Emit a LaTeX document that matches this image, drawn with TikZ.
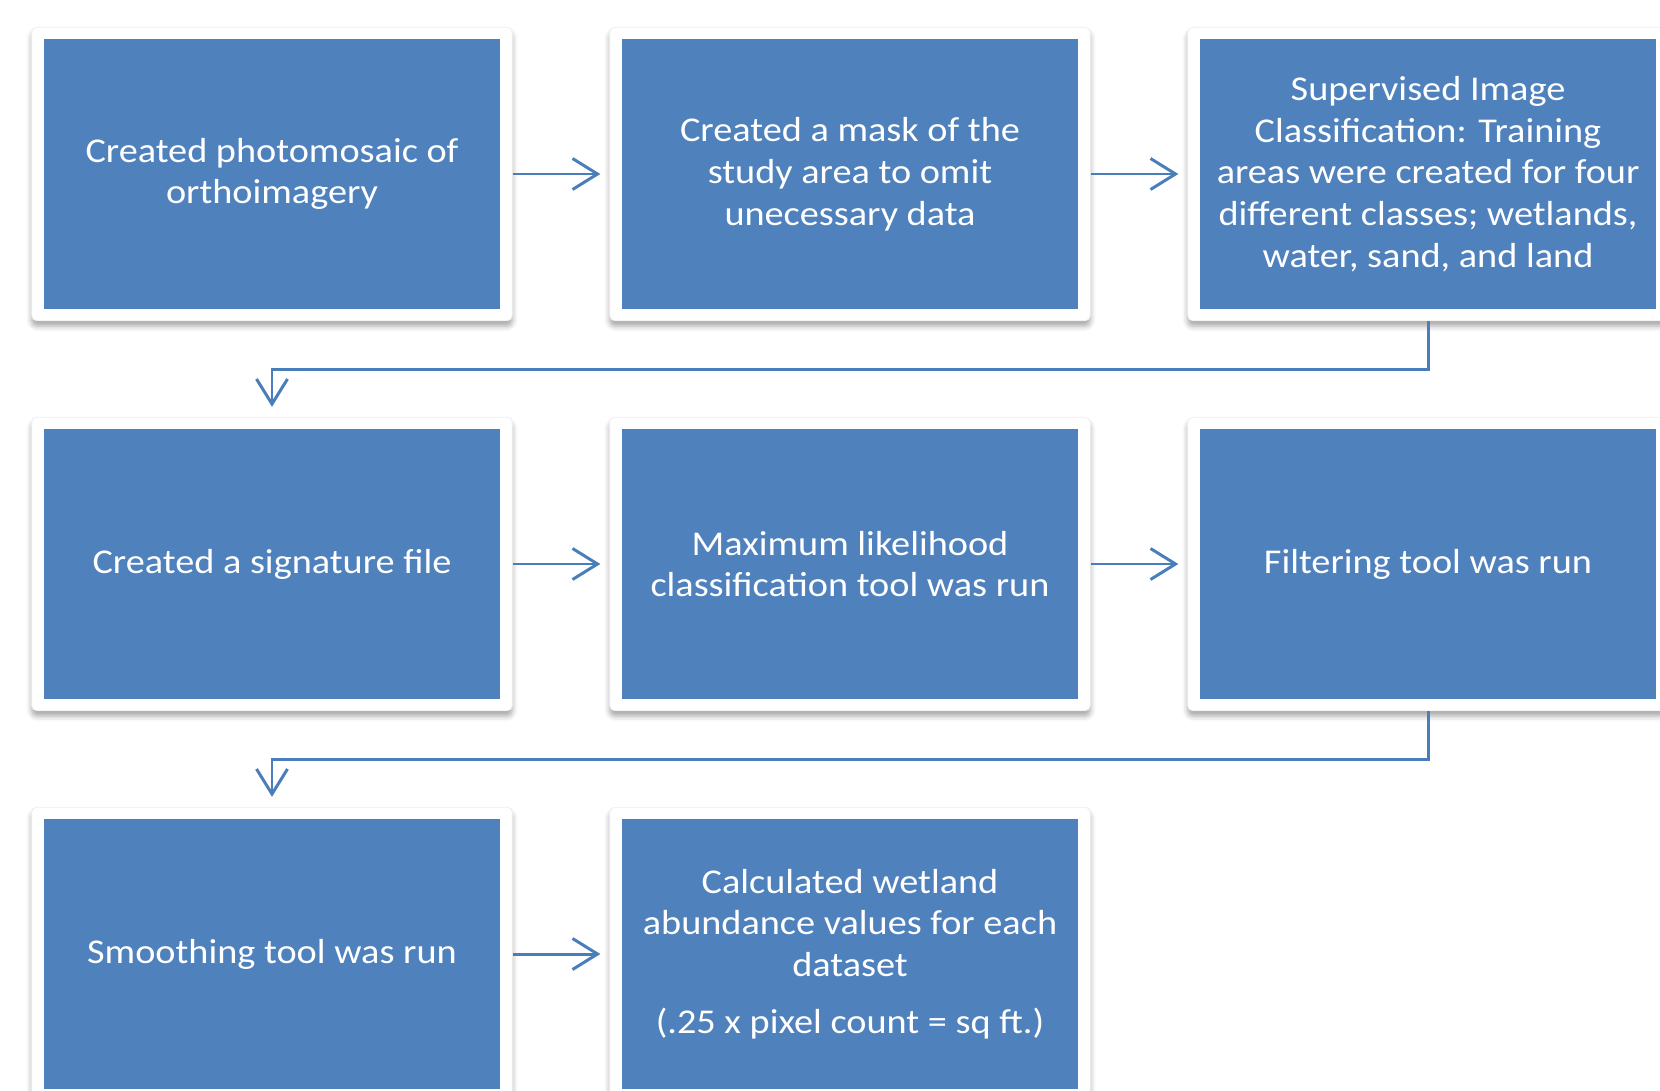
\documentclass[tikz,border=0pt]{standalone}
\usepackage{fontspec}
\setmainfont{Carlito}[FakeStretch=1.1]
\usetikzlibrary{arrows.meta,
                fit,
                backgrounds,
                shadows.blur,
                positioning}
\definecolor{boxblue}{HTML}{4F81BD}
\definecolor{linkblue}{HTML}{4A7EBB}
\tikzset{
  stepbox/.style={fill=boxblue, text=white, align=center, inner sep=0pt,
    minimum width=9.14cm, minimum height=5.4cm,
    font=\fontsize{19.8}{23.8}\selectfont},
  framebox/.style={fill=white, draw=black!7, rounded corners=3pt, inner sep=0.23cm,
    blur shadow={shadow xshift=0pt, shadow yshift=-3pt, shadow blur radius=3pt,
      shadow opacity=35}},
  link/.style={draw=linkblue, line width=1.7pt,
    -{Straight Barb[length=0.5cm, width=0.62cm, line width=1.7pt]}}
}

\begin{document}
\begin{tikzpicture}[x=0.02cm, y=-0.02cm]
\useasboundingbox (0,0) rectangle (1660,1091);

% steps, row by row
\node[stepbox] (mosaic) at (272,174) {Created photomosaic of\\orthoimagery};
\node[stepbox] (mask)   at (850,174) {Created a mask of the\\study area to omit\\unecessary data};
\node[stepbox] (train)  at (1428,174) {Supervised Image\\Classification: Training\\areas were created for four\\different classes; wetlands,\\water, sand, and land};

\node[stepbox] (sig)    at (272,564) {Created a signature file};
\node[stepbox] (maxlik) at (850,564) {Maximum likelihood\\classification tool was run};
\node[stepbox] (filt)   at (1428,564) {Filtering tool was run};

\node[stepbox] (smooth) at (272,954) {Smoothing tool was run};
\node[stepbox] (area)   at (850,954) {Calculated wetland\\abundance values for each\\dataset\\[0.3cm](.25 x pixel count = sq ft.)};

% white frames behind the steps
\begin{scope}[on background layer]
\foreach \n in {mosaic,mask,train,sig,maxlik,filt,smooth,area}
  \node[framebox, fit=(\n)] (f\n) {};
\end{scope}

% connectors
\draw[link, shorten >=0.18cm] (fmosaic) -- (fmask);
\draw[link, shorten >=0.18cm] (fmask) -- (ftrain);
\draw[link, shorten >=0.2cm] (ftrain.south) -- ++(0,48) -| (fsig.north);
\draw[link, shorten >=0.18cm] (fsig) -- (fmaxlik);
\draw[link, shorten >=0.18cm] (fmaxlik) -- (ffilt);
\draw[link, shorten >=0.2cm] (ffilt.south) -- ++(0,48) -| (fsmooth.north);
\draw[link, shorten >=0.18cm] (fsmooth) -- (farea);
\end{tikzpicture}
\end{document}
